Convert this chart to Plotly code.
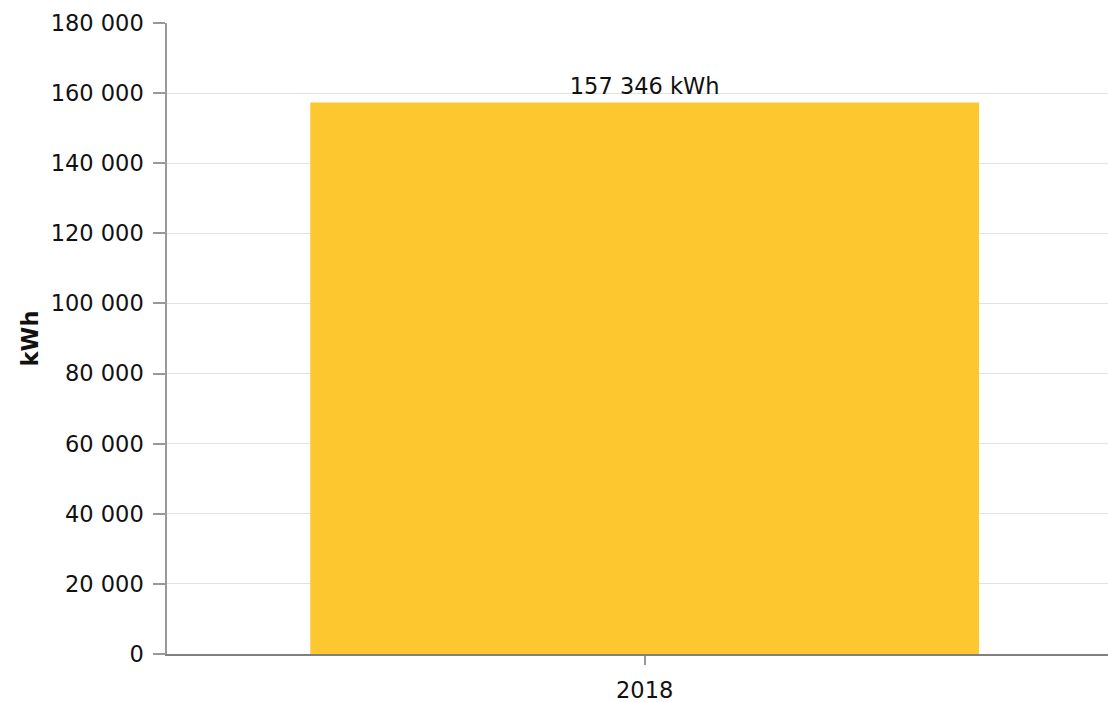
import plotly.graph_objects as go

categories = ["2018"]
values = [157346]
y_ticks = [0, 20000, 40000, 60000, 80000, 100000, 120000, 140000, 160000, 180000]
unit = "kWh"

FONT = "DejaVu Sans, Verdana, sans-serif"
FS = 22.5

fig = go.Figure(
    go.Bar(
        x=categories,
        y=values,
        width=0.70,
        marker=dict(color="#fdc82f", line=dict(width=0)),
        texttemplate="%{y:,d} " + unit,
        textposition="outside",
        cliponaxis=False,
        textfont=dict(family=FONT, size=FS, color="#111111"),
    )
)

fig.update_layout(
    width=1108,
    height=702,
    margin=dict(l=167, r=0, t=23, b=48, autoexpand=False),
    paper_bgcolor="white",
    plot_bgcolor="white",
    separators=". ",
    showlegend=False,
    font=dict(family=FONT, size=FS, color="#111111"),
)

fig.update_xaxes(
    type="category",
    range=[-0.5, 0.485],
    automargin=False,
    showline=True,
    linecolor="#808080",
    linewidth=2,
    ticks="outside",
    ticklen=9,
    tickcolor="#999999",
    tickwidth=1.5,
    showgrid=False,
    ticklabelstandoff=6,
    tickfont=dict(family=FONT, size=FS, color="#111111"),
)

fig.update_yaxes(
    range=[0, 180000],
    tickvals=y_ticks,
    tickformat=",d",
    automargin=False,
    showline=True,
    linecolor="#999999",
    linewidth=1.5,
    ticks="outside",
    ticklen=12,
    tickcolor="#999999",
    tickwidth=1.5,
    showgrid=True,
    gridcolor="#e2e2e2",
    gridwidth=1,
    zeroline=False,
    ticklabelstandoff=5,
    tickfont=dict(family=FONT, size=FS, color="#111111"),
    title=dict(text="<b>" + unit + "</b>", font=dict(family=FONT, size=FS, color="#111111"), standoff=6),
)

fig.write_html(
    "out.html",
    config={"displayModeBar": False},
    post_script="document.body.style.margin='0';document.body.style.overflow='hidden';",
)
